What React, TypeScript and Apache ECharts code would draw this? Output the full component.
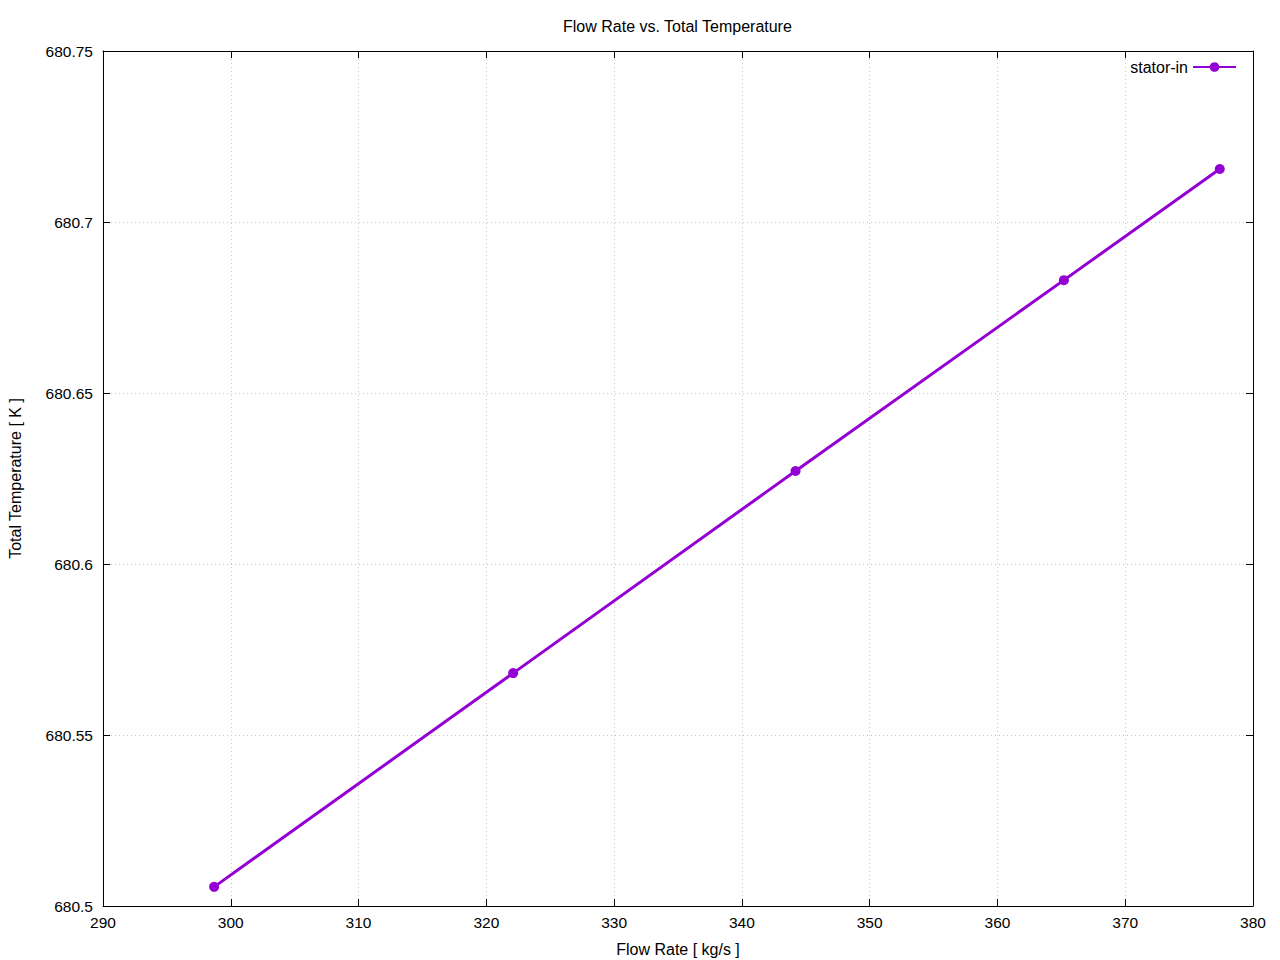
import React, { useEffect, useRef } from "react";
import * as echarts from "echarts";

const flowRate = [298.7, 322.1, 344.2, 365.2, 377.4];
const totalTemp = [680.5056, 680.5681, 680.6272, 680.683, 680.7155];
const seriesName = "stator-in";

export default function App() {
  const ref = useRef<HTMLDivElement>(null);
  useEffect(() => {
    document.body.style.margin = "0";
    const chart = echarts.init(ref.current!, null, { renderer: "svg" });
    const font = "Liberation Sans, Arial, sans-serif";
    const tickStyle = { show: true, inside: true, length: 7, lineStyle: { color: "#000", width: 1 } };
    const axisLine = { show: true, lineStyle: { color: "#000", width: 1 } };
    const gridLine = { show: true, lineStyle: { color: "#c8c8c8", type: [1, 3] as any, width: 1 } };
    chart.setOption({
      animation: false,
      backgroundColor: "#fff",
      textStyle: { fontFamily: font },
      title: {
        text: "Flow Rate vs. Total Temperature",
        left: 558,
        top: 13,
        textStyle: { fontSize: 16, fontWeight: "normal", color: "#000", fontFamily: font },
      },
      legend: {
        right: 38,
        top: 54,
        align: "right",
        itemWidth: 43,
        itemHeight: 12,
        itemGap: 10,
        textStyle: { fontSize: 16, color: "#000", fontFamily: font },
        data: [seriesName],
      },
      grid: { left: 103, right: 27, top: 51, bottom: 54, outerBoundsMode: "none", containLabel: false },
      xAxis: [
        {
          type: "value",
          min: 290,
          max: 380,
          interval: 10,
          name: "Flow Rate [ kg/s ]",
          nameLocation: "middle",
          nameGap: 35,
          nameTextStyle: { fontSize: 16, color: "#000", fontFamily: font },
          axisLine,
          axisTick: tickStyle,
          axisLabel: { fontSize: 15.5, color: "#000", margin: 8, fontFamily: font },
          splitLine: gridLine,
        },
        {
          type: "value",
          position: "top",
          min: 290,
          max: 380,
          interval: 10,
          axisLine,
          axisTick: tickStyle,
          axisLabel: { show: false },
          splitLine: { show: false },
        },
      ],
      yAxis: [
        {
          type: "value",
          min: 680.5,
          max: 680.75,
          interval: 0.05,
          name: "Total Temperature [ K ]",
          nameLocation: "middle",
          nameGap: 80,
          nameTextStyle: { fontSize: 16, color: "#000", fontFamily: font },
          axisLine,
          axisTick: tickStyle,
          axisLabel: {
            fontSize: 15.5,
            color: "#000",
            margin: 10,
            fontFamily: font,
            formatter: (v: number) => String(parseFloat(v.toFixed(4))),
          },
          splitLine: gridLine,
        },
        {
          type: "value",
          position: "right",
          min: 680.5,
          max: 680.75,
          interval: 0.05,
          axisLine,
          axisTick: tickStyle,
          axisLabel: { show: false },
          splitLine: { show: false },
        },
      ],
      series: [
        {
          name: seriesName,
          type: "line",
          data: flowRate.map((x, i) => [x, totalTemp[i]]),
          color: "#9400D3",
          lineStyle: { width: 3, color: "#9400D3" },
          symbol: "circle",
          symbolSize: 10,
          itemStyle: { color: "#9400D3" },
        },
      ],
    });
    return () => chart.dispose();
  }, []);
  return <div ref={ref} style={{ width: 1280, height: 960 }} />;
}
